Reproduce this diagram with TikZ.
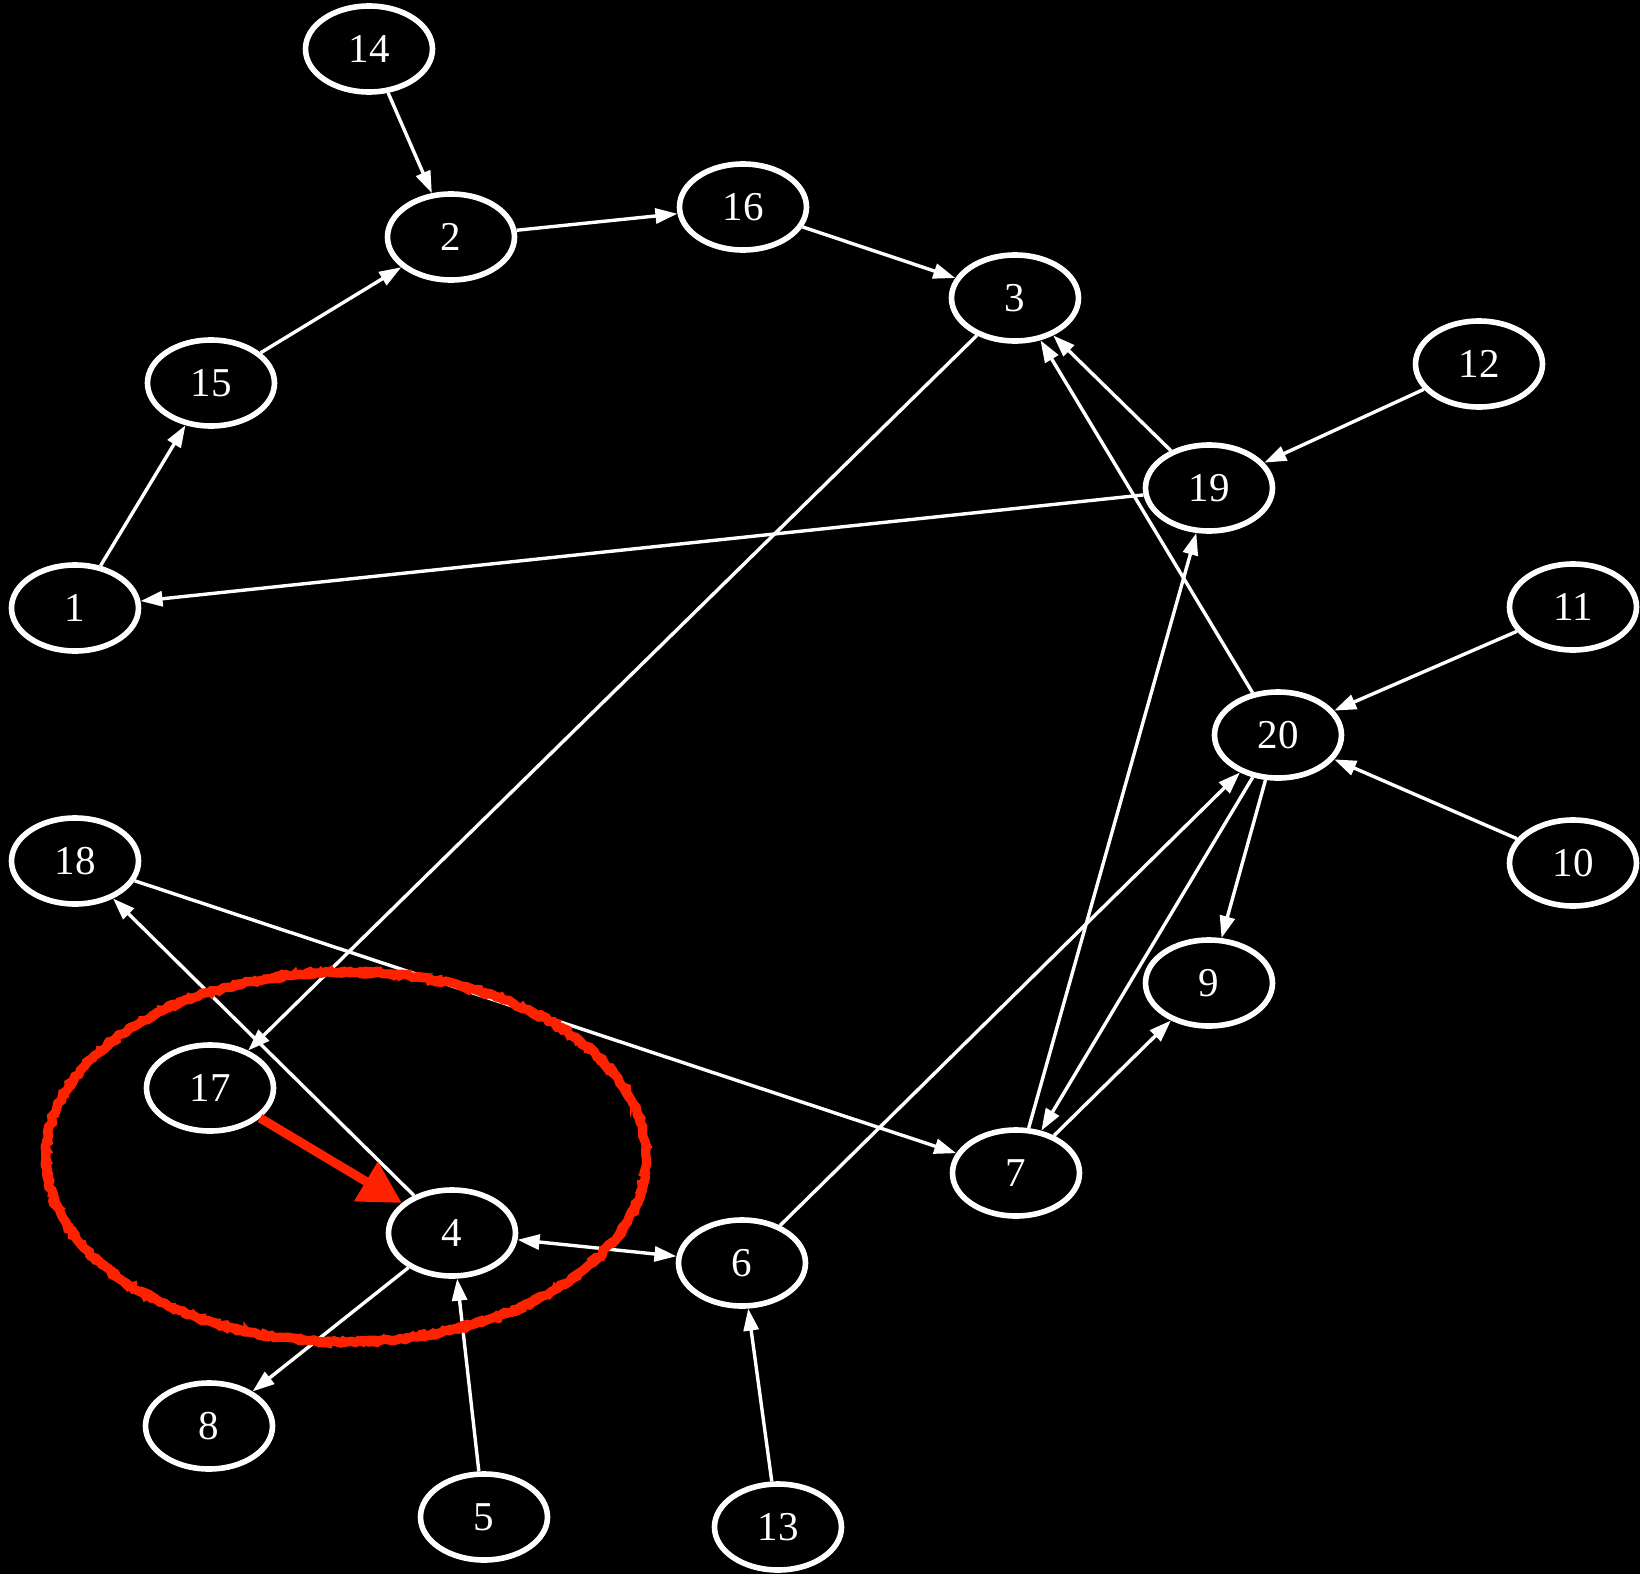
\documentclass[tikz,border=0pt]{standalone}
\usepackage{fontspec}
\setmainfont{Liberation Serif}
\usetikzlibrary{arrows.meta,shapes.geometric,decorations.pathmorphing}
\definecolor{markred}{RGB}{255,34,0}
\begin{document}
\begin{tikzpicture}[x=0.5pt,y=-0.5pt,
  gnode/.style={ellipse,draw=white,line width=2.8pt,minimum width=63.5pt,minimum height=43pt,inner sep=0pt,text=white,font=\fontsize{20.5pt}{24pt}\selectfont},
  edge/.style={draw=white,line width=1.7pt,-{Triangle[length=11pt,width=7.5pt]}},
  biedge/.style={draw=white,line width=1.7pt,{Triangle[length=11pt,width=7.5pt]}-{Triangle[length=11pt,width=7.5pt]}},
  redarrow/.style={draw=markred,line width=4.5pt,-{Triangle[length=21pt,width=22pt]}},
  redmark/.style={draw=markred,line width=4.6pt,decorate,decoration={random steps,segment length=2.5pt,amplitude=0.7pt}},
  redmarkb/.style={draw=markred,line width=2pt,decorate,decoration={random steps,segment length=2pt,amplitude=1.3pt}}
]
\useasboundingbox (0,0) rectangle (1640,1574);
\fill[black] (0,0) rectangle (1640,1574);

\node[gnode] (n14) at (369,49) {14};
\node[gnode] (n2) at (451,237) {2};
\node[gnode] (n16) at (743,207) {16};
\node[gnode] (n3) at (1015,298) {3};
\node[gnode] (n12) at (1479,364) {12};
\node[gnode] (n15) at (211,383) {15};
\node[gnode] (n19) at (1209,488) {19};
\node[gnode] (n1) at (75,608) {1};
\node[gnode] (n11) at (1573,607) {11};
\node[gnode] (n20) at (1278,735) {20};
\node[gnode] (n10) at (1573,863) {10};
\node[gnode] (n18) at (75,861) {18};
\node[gnode] (n9) at (1209,983) {9};
\node[gnode] (n17) at (210,1088) {17};
\node[gnode] (n7) at (1016,1173) {7};
\node[gnode] (n4) at (452,1233) {4};
\node[gnode] (n6) at (742,1263) {6};
\node[gnode] (n8) at (209,1426) {8};
\node[gnode] (n5) at (484,1517) {5};
\node[gnode] (n13) at (778,1527) {13};

\draw[edge] (n14) -- (n2);
\draw[edge] (n2) -- (n16);
\draw[edge] (n16) -- (n3);
\draw[edge] (n15) -- (n2);
\draw[edge] (n1) -- (n15);
\draw[edge] (n19) -- (n1);
\draw[edge] (n3) -- (n17);
\draw[edge] (n19) -- (n3);
\draw[edge] (n20) -- (n3);
\draw[edge] (n12) -- (n19);
\draw[edge] (n7) -- (n19);
\draw[edge] (n11) -- (n20);
\draw[edge] (n10) -- (n20);
\draw[edge] (n6) -- (n20);
\draw[edge] (n20) -- (n9);
\draw[edge] (n20) -- (n7);
\draw[edge] (n7) -- (n9);
\draw[edge] (n18) -- (n7);
\draw[edge] (n4) -- (n18);
\draw[biedge] (n4) -- (n6);
\draw[edge] (n4) -- (n8);
\draw[edge] (n5) -- (n4);
\draw[edge] (n13) -- (n6);

\pgfmathsetseed{7}
\draw[redmark] (346,1157) ellipse [x radius=150pt, y radius=92.5pt];
\draw[redmarkb] (346,1157) ellipse [x radius=151pt, y radius=93.5pt];
\draw[redmarkb] (346,1157) ellipse [x radius=149pt, y radius=91.5pt];
\draw[redarrow] (n17) -- (n4);
\end{tikzpicture}
\end{document}
